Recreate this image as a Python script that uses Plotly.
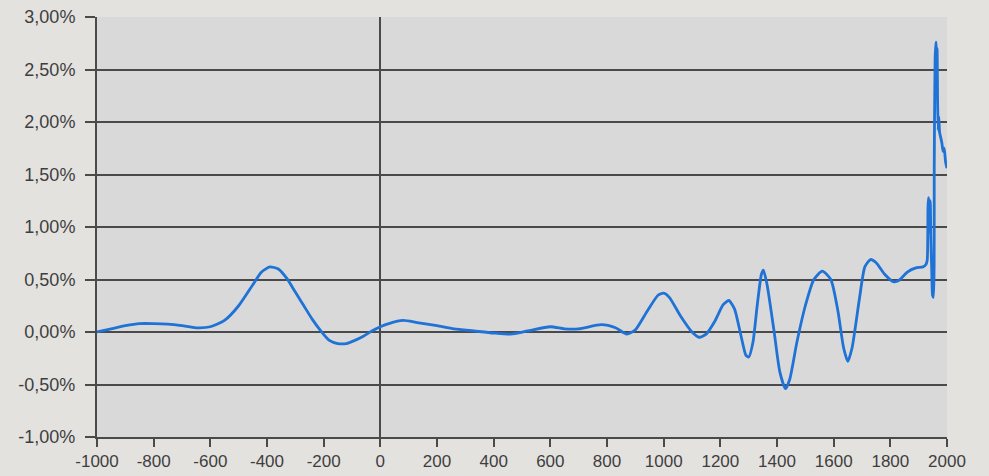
import plotly.graph_objects as go

# Years (x) and deviation values in percent (y)
years = [
    -1000, -950, -900, -850, -800, -750, -700, -650, -600, -550, -500, -450, -420,
    -390, -360, -330, -300, -270, -240, -210, -180, -150, -120, -90, -60, -30, 0,
    30, 80, 130, 200, 260, 330, 400, 460, 520, 600, 650, 700, 780, 830, 870, 900,
    940, 980, 1000, 1020, 1060, 1100, 1125, 1150, 1180, 1210, 1230, 1250, 1270,
    1290, 1300, 1315, 1330, 1345, 1352, 1365, 1390, 1410, 1430, 1445, 1470, 1500,
    1530, 1560, 1590, 1615, 1635, 1650, 1665, 1690, 1710, 1730, 1750, 1780, 1810,
    1830, 1860, 1890, 1915, 1925, 1930, 1933, 1935, 1937, 1939, 1941, 1943, 1946,
    1949, 1952, 1955, 1958, 1961, 1963, 1965, 1967, 1969, 1971, 1974, 1978, 1982,
    1986, 1990, 1995, 2000,
]
values = [
    0.00, 0.03, 0.06, 0.08, 0.08, 0.075, 0.06, 0.04, 0.05, 0.11, 0.25, 0.45, 0.57,
    0.62, 0.60, 0.51, 0.38, 0.25, 0.12, 0.01, -0.08, -0.11, -0.11, -0.08, -0.04, 0.01, 0.05,
    0.08, 0.11, 0.09, 0.06, 0.03, 0.01, -0.01, -0.02, 0.01, 0.05, 0.03, 0.03, 0.07, 0.04, -0.02, 0.02,
    0.19, 0.35, 0.37, 0.33, 0.15, 0.00, -0.05, -0.02, 0.10, 0.26, 0.30, 0.22, 0.00,
    -0.22, -0.24, -0.10, 0.25, 0.55, 0.59, 0.45, 0.00, -0.38, -0.54, -0.45, -0.10, 0.25,
    0.50, 0.58, 0.50, 0.20, -0.15, -0.28, -0.15, 0.30, 0.62, 0.69, 0.66, 0.55, 0.48,
    0.49, 0.57, 0.61, 0.62, 0.64, 0.68, 1.20, 1.28, 0.95, 1.10, 1.25, 0.90, 0.60,
    0.35, 0.33, 1.60, 2.60, 2.76, 2.55, 2.70, 2.16, 1.92, 2.05, 1.90, 1.85, 1.80,
    1.72, 1.75, 1.62, 1.56,
]

x_ticks = list(range(-1000, 2001, 200))
y_ticks = [-1.0, -0.5, 0.0, 0.5, 1.0, 1.5, 2.0, 2.5, 3.0]
y_tick_labels = ["-1,00%", "-0,50%", "0,00%", "0,50%", "1,00%", "1,50%", "2,00%", "2,50%", "3,00%"]

axis_col = "#4a4a4a"
font_col = "#3e3e3e"

fig = go.Figure()
fig.add_trace(go.Scatter(
    x=years, y=values, mode="lines",
    line=dict(color="#1f72d6", width=2.8, shape="spline", smoothing=0.6),
    showlegend=False, hoverinfo="x+y",
))

fig.update_layout(
    width=989, height=476,
    margin=dict(l=97, r=42, t=17, b=39),
    paper_bgcolor="#e4e2df",
    plot_bgcolor="#d9d9d9",
    font=dict(family="Liberation Sans, Arial, sans-serif", size=17, color=font_col),
    xaxis=dict(
        range=[-1000, 2000], tickvals=x_ticks, ticktext=[str(v) for v in x_ticks],
        showgrid=False, zeroline=True, zerolinecolor=axis_col, zerolinewidth=1.5,
        showline=True, linecolor=axis_col, linewidth=2,
        ticks="outside", ticklen=8, tickwidth=1.5, tickcolor=axis_col,
        tickfont=dict(size=17, color=font_col), automargin=False,
    ),
    yaxis=dict(
        range=[-1.0, 3.0], tickvals=y_ticks, ticktext=y_tick_labels,
        showgrid=True, gridcolor=axis_col, gridwidth=2,
        zeroline=True, zerolinecolor=axis_col, zerolinewidth=2,
        showline=True, linecolor=axis_col, linewidth=2,
        ticks="outside", ticklen=10, tickwidth=1.5, tickcolor=axis_col,
        ticklabelstandoff=6,
        tickfont=dict(size=18, color=font_col), automargin=False,
    ),
)

fig.write_html(
    "out.html",
    config={"displayModeBar": False},
    post_script="document.body.style.margin='0';document.body.style.background='#e4e2df';",
)
